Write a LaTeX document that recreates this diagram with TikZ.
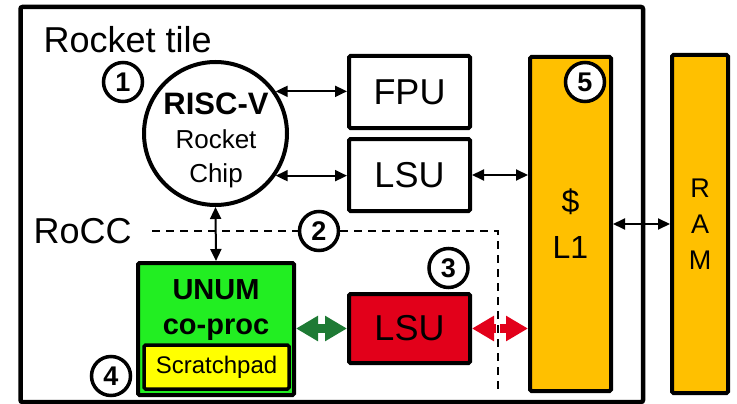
\documentclass[tikz,border=0pt]{standalone}
\usepackage{fontspec}
\setmainfont{Liberation Sans}
\usepackage{xcolor}
\usetikzlibrary{arrows.meta,positioning,calc}
\definecolor{cacheorange}{HTML}{FFC000}
\definecolor{unumgreen}{HTML}{22EE22}
\definecolor{lsured}{HTML}{E2001A}
\definecolor{padyellow}{HTML}{FFFF00}
\definecolor{linkgreen}{HTML}{1E7A34}

\begin{document}
\begin{tikzpicture}[x=1pt, y=-1pt,
  box/.style={draw, line width=4pt, rounded corners=1.5pt, inner sep=0pt, align=center,
              minimum width=121pt, minimum height=72pt, font=\fontsize{36}{40}\selectfont},
  col/.style={box, fill=cacheorange, minimum height=334pt, font=\fontsize{32}{46}\selectfont},
  num/.style={draw, circle, line width=3.5pt, fill=white, minimum size=39pt, inner sep=0pt,
              font=\fontsize{27}{27}\selectfont\bfseries},
  big/.style={font=\fontsize{36}{40}\selectfont},
  ar/.style={{Triangle[length=12pt,width=11pt]}-{Triangle[length=12pt,width=11pt]}, line width=2pt},
  fat/.style={{Triangle[length=22pt,width=24pt]}-{Triangle[length=22pt,width=24pt]}, line width=9pt},
  rocc/.style={dash pattern=on 8pt off 6pt, line width=1.6pt}
]
\useasboundingbox (0,0) rectangle (737,404);
\draw[line width=4.5pt, rounded corners=2pt] (20.5,7) rectangle (643,402);
\node[big, anchor=base west] (tile) at (40,53) {Rocket tile};
\node[big, anchor=base west] (rocclbl) at (30,243) {RoCC};

% core and its units
\node[draw, circle, line width=4pt, minimum size=143pt, inner sep=0pt] (risc) at (215.5,133.5) {};
\node[align=center, font=\fontsize{26}{34}\selectfont] (risctxt) at (216,140)
  {{\fontsize{31}{34}\selectfont\bfseries RISC-V}\\Rocket\\Chip};
\node[box] (fpu) at (409.5,92) {FPU};
\node[box] (lsu) at (409.5,175) {LSU};
\node[box, fill=lsured, minimum height=69pt] (xlsu) at (409.5,328.5) {LSU};

% memory
\node[col, minimum width=81pt] (l1) at (570.5,224) {\$\\L1};
\node[col, minimum width=56pt, minimum height=338pt, font=\fontsize{27}{36}\selectfont] (ram) at (700,224) {R\\A\\M};

% co-processor
\node[box, fill=unumgreen, minimum width=156pt, minimum height=132pt] (unum) at (216,329) {};
\node[align=center, font=\fontsize{29}{35}\selectfont\bfseries] (unumtxt) at (216,310) {UNUM\\co-proc};
\node[box, fill=padyellow, minimum width=145pt, minimum height=44pt, line width=3.5pt,
      font=\fontsize{24}{28}\selectfont] (pad) at (216.5,367) {Scratchpad};

% RoCC boundary
\coordinate (roccstart) at (152,231);
\coordinate (rocccorner) at (498,231);
\coordinate (roccend) at (498,395);
\draw[rocc] (roccstart) -- (319,231);

\node[num] (n1) at (123,82) {1};
\node[num] (n2) at (319,231) {2};
\node[num] (n3) at (448.5,268) {3};
\node[num] (n4) at (111,376) {4};
\node[num] (n5) at (585,82) {5};

\draw[ar] (risc.35) -- (risc.35 -| fpu.west);
\draw[ar] (risc.-35) -- (risc.-35 -| lsu.west);
\draw[ar] (lsu.east) -- (lsu.east -| l1.west);
\draw[ar] (l1.east) -- (ram.west);
\draw[ar] (risc.south) -- (unum.north);
\draw[fat, linkgreen] (unum.east |- xlsu.west) -- (xlsu.west);
\draw[fat, lsured] (xlsu.east) -- (xlsu.east -| l1.west);

\draw[rocc, preaction={draw=white, solid, line width=4pt}] (n2.east) -- (rocccorner) -- (roccend);
\end{tikzpicture}
\end{document}
